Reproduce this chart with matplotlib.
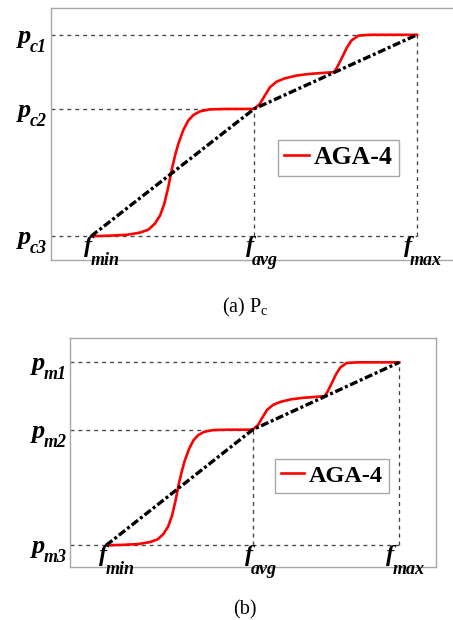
import numpy as np
import matplotlib.pyplot as plt

plt.rcParams.update({
    'font.family': 'Liberation Serif',
    'mathtext.fontset': 'custom',
    'mathtext.rm': 'Liberation Serif',
    'mathtext.sf': 'Liberation Serif',
})

# normalised fitness (f_min -> 0, f_max -> 1) and probability levels (p3 -> 0, p1 -> 1)
f_vals = [0.0, 0.5, 1.0]
f_names = ['min', 'avg', 'max']
p_vals = [1.0, 0.632, 0.0]
pc_names = ['c1', 'c2', 'c3']
pm_names = ['m1', 'm2', 'm3']

# linear adaptive rule (black dash-dot)
lin_x = [0.0, 0.5, 1.0]
lin_y = [0.0, 0.632, 1.0]

# AGA-4 curve
aga_x = [0.0, 0.058, 0.109, 0.150, 0.176, 0.196, 0.212, 0.225, 0.237, 0.247,
         0.258, 0.268, 0.283, 0.298, 0.314, 0.334, 0.365, 0.416, 0.467, 0.5,
         0.518, 0.534, 0.549, 0.570, 0.595, 0.631, 0.672, 0.713, 0.746,
         0.756, 0.769, 0.784, 0.799, 0.820, 0.856, 1.0]
aga_y = [0.0, 0.003, 0.007, 0.018, 0.033, 0.063, 0.104, 0.163, 0.245, 0.328,
         0.403, 0.461, 0.527, 0.574, 0.602, 0.620, 0.630, 0.632, 0.632, 0.632,
         0.657, 0.701, 0.740, 0.768, 0.784, 0.798, 0.806, 0.811, 0.815,
         0.842, 0.884, 0.934, 0.972, 0.996, 1.0, 1.0]

XL = (-0.123, 1.125)
YL = (-0.118, 1.133)
lab = dict(family='Liberation Serif', weight='bold', style='italic')


def draw_panel(ax, p_names, leg_anchor, leg_fs, p_dx):
    ax.set_xlim(*XL)
    ax.set_ylim(*YL)
    ax.set_xticks([])
    ax.set_yticks([])
    for s in ax.spines.values():
        s.set_color('#a8a8a8')
        s.set_linewidth(1.0)

    guide = dict(color='#444444', lw=0.95, ls=(0, (3, 3)), zorder=1)
    # horizontal guides from the left spine
    ax.plot([XL[0], f_vals[2]], [p_vals[0], p_vals[0]], **guide)
    ax.plot([XL[0], f_vals[1]], [p_vals[1], p_vals[1]], **guide)
    ax.plot([XL[0], f_vals[2]], [p_vals[2], p_vals[2]], **guide)
    # vertical guides down to p3
    ax.plot([f_vals[1], f_vals[1]], [p_vals[2], p_vals[1]], **guide)
    ax.plot([f_vals[2], f_vals[2]], [p_vals[2], p_vals[0]], **guide)

    ax.plot(aga_x, aga_y, color='red', lw=1.9, zorder=3, label='AGA-4')
    ax.plot(lin_x, lin_y, color='black', lw=2.4, ls=(0, (2.4, 0.8, 0.9, 0.8)), zorder=4)

    # p labels: subscript at the right, the p just left of it
    for p, name in zip(p_vals, p_names):
        sub = ax.annotate(name, xy=(0, p), xycoords=('axes fraction', 'data'),
                          xytext=(p_dx, -17), textcoords='offset pixels',
                          ha='right', va='baseline', fontsize=13, **lab)
        ax.annotate('p', xy=(0, 0), xycoords=sub, xytext=(1, 13),
                    textcoords='offset pixels', ha='right', va='baseline',
                    fontsize=19, **lab)
    # f labels below the p3 line
    for f, name, dx in zip(f_vals, f_names, [-7, -8, -13]):
        main = ax.annotate('f', xy=(f, p_vals[2]), xytext=(dx, 0),
                           textcoords='offset pixels', ha='left', va='top',
                           fontsize=17.5, **lab)
        ax.annotate(name, xy=(1, 0), xycoords=main, xytext=(-2, -8),
                    textcoords='offset pixels', ha='left', va='baseline',
                    fontsize=13, **lab)

    leg = ax.legend(loc='upper left', bbox_to_anchor=leg_anchor, borderaxespad=0,
                    fancybox=False, framealpha=1, edgecolor='#a8a8a8',
                    handlelength=0.95, handletextpad=0.2, borderpad=0.25,
                    prop={'family': 'Liberation Serif', 'weight': 'bold', 'size': leg_fs})
    leg.get_frame().set_linewidth(1.0)


fig = plt.figure(figsize=(4.53, 6.2), dpi=100)
ax1 = fig.add_axes([0.1126, 0.5806, 0.8979, 0.4065])
ax2 = fig.add_axes([0.1545, 0.0855, 0.8079, 0.3694])

draw_panel(ax1, pc_names, (0.558, 0.476), 18.5, -4)
draw_panel(ax2, pm_names, (0.560, 0.472), 17.5, -3)

fig.text(245 / 453, 1 - 312 / 620, r'(a) P$_{\mathrm{c}}$', ha='center', va='baseline', fontsize=14.5)
fig.text(245 / 453, 1 - 614 / 620, '(b)', ha='center', va='baseline', fontsize=14.5)

fig.savefig('out.png', dpi=100)
